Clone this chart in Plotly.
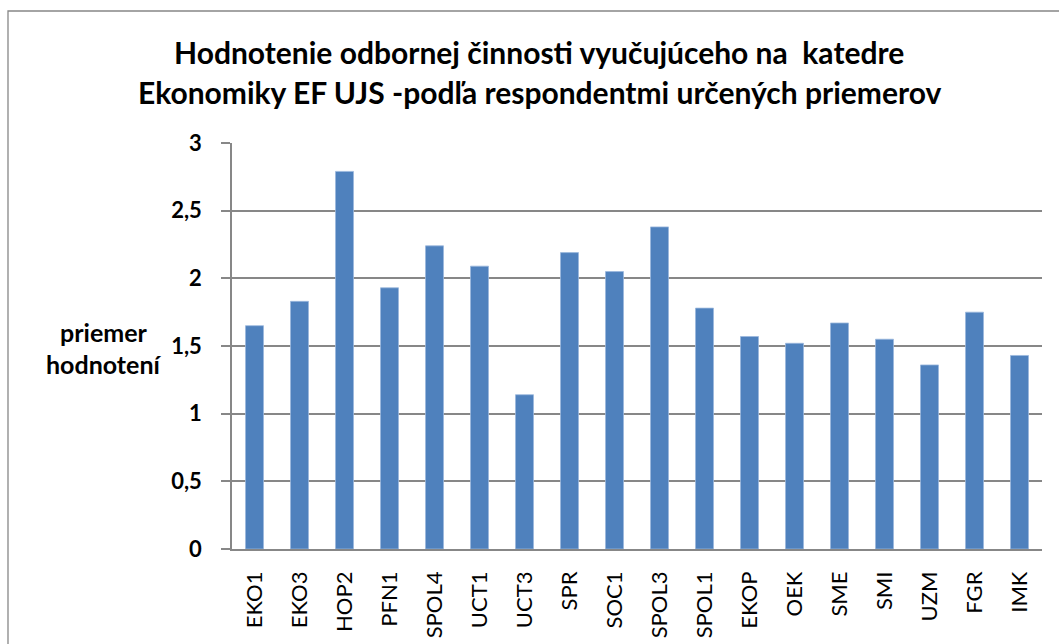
import plotly.graph_objects as go

categories = ["EKO1", "EKO3", "HOP2", "PFN1", "SPOL4", "UCT1", "UCT3", "SPR", "SOC1",
              "SPOL3", "SPOL1", "EKOP", "OEK", "SME", "SMI", "UZM", "FGR", "IMK"]
values = [1.65, 1.83, 2.79, 1.93, 2.24, 2.09, 1.14, 2.19, 2.05,
          2.38, 1.78, 1.57, 1.52, 1.67, 1.55, 1.36, 1.75, 1.43]
y_tickvals = [0, 0.5, 1, 1.5, 2, 2.5, 3]
y_ticktext = ["0", "0,5", "1", "1,5", "2", "2,5", "3"]
title_lines = ["Hodnotenie odbornej činnosti vyučujúceho na  katedre",
               "Ekonomiky EF UJS -podľa respondentmi určených priemerov"]
ytitle_lines = ["priemer", "hodnotení"]

W, H = 1059, 644
L, R, T, B = 232, 17, 143, 95
pw, ph = W - L - R, H - T - B

def px(x):
    return (x - L) / pw

def py(y):
    return (H - B - y) / ph

FONT = "Lato, 'Open Sans', sans-serif"
GRAY = "#878787"

fig = go.Figure(go.Bar(
    x=categories, y=values,
    marker=dict(color="#4F81BD", line=dict(color="#9BB7DD", width=0.8)),
    width=0.4,
))

fig.update_layout(
    width=W, height=H,
    margin=dict(l=L, r=R, t=T, b=B, autoexpand=False),
    paper_bgcolor="white", plot_bgcolor="white",
    showlegend=False,
    font=dict(family=FONT, color="black"),
    bargap=0.6,
)

fig.update_xaxes(
    showline=True, linecolor=GRAY, linewidth=1.5,
    ticks="", tickangle=-90, tickfont=dict(size=22, family=FONT),
    ticklabelstandoff=12, showgrid=False, automargin=False,
)
fig.update_yaxes(
    range=[0, 3], tickvals=y_tickvals, ticktext=y_ticktext,
    showline=True, linecolor=GRAY, linewidth=1.5,
    ticks="outside", ticklen=9, tickcolor=GRAY, tickwidth=1.5,
    tickfont=dict(size=22, family=FONT, weight="bold"),
    ticklabelstandoff=15, automargin=False,
    showgrid=True, gridcolor=GRAY, gridwidth=1.5, zeroline=False,
)

# chart frame
fig.add_shape(type="rect", xref="paper", yref="paper",
              x0=px(8), x1=px(1065), y0=py(650), y1=py(11),
              line=dict(color=GRAY, width=1.3), fillcolor="rgba(0,0,0,0)", layer="below")

for txt, yc in zip(title_lines, [52, 92]):
    fig.add_annotation(text=txt, xref="paper", yref="paper", x=px(539), y=py(yc),
                       showarrow=False, xanchor="center", yanchor="middle",
                       font=dict(size=30, family=FONT, weight="bold"))

for txt, yc in zip(ytitle_lines, [332, 364]):
    fig.add_annotation(text=txt, xref="paper", yref="paper", x=px(104), y=py(yc),
                       showarrow=False, xanchor="center", yanchor="middle",
                       font=dict(size=25, family=FONT, weight="bold"))

fig.write_html("out.html", config={"displayModeBar": False},
               post_script="document.body.style.margin='0px';document.body.style.overflow='hidden';")
